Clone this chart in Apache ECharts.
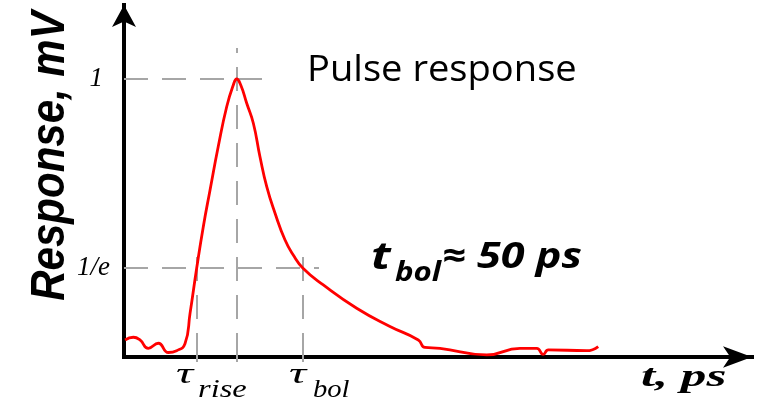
<!DOCTYPE html>
<html>
<head>
<meta charset="utf-8">
<title>Pulse response</title>
<script src="https://cdn.jsdelivr.net/npm/echarts@6.0.0/dist/echarts.min.js"></script>
<style>
  html, body { margin: 0; padding: 0; background: #fff; }
  #main { width: 763px; height: 404px; }
</style>
</head>
<body>
<div id="main"></div>
<script>
// pulse curve (t in ps, response in mV)
var timePs = [0.8, 7.2, 12.3, 18.7, 26.4, 34.1, 40.5, 46.9, 50.8, 55.9, 61.0, 66.2, 72.5, 79.0, 84.1, 86.7, 89.8, 94.4, 99.5, 104.6, 109.8, 116.2, 123.8, 130.2, 137.7, 153.3, 179.0, 204.6, 226.4, 231.5, 243.1, 279.0, 304.6, 317.5, 322.5, 326.4, 355.9, 364.8]
var responseMv = [0.127, 0.136, 0.127, 0.099, 0.116, 0.085, 0.091, 0.114, 0.216, 0.367, 0.506, 0.629, 0.774, 0.907, 0.980, 1.0, 0.980, 0.919, 0.852, 0.740, 0.640, 0.551, 0.462, 0.411, 0.367, 0.311, 0.233, 0.172, 0.127, 0.102, 0.099, 0.077, 0.099, 0.099, 0.079, 0.094, 0.091, 0.105]

// guide levels (y) and marker times (x)
var levelValues = [1, 0.3679]
var levelLabels = ['1', '1/e']
var levelEnds = [116, 150]          // how far the horizontal dashes run, ps
var markerTimes = [56.2, 86.7, 137.7] // tau_rise, peak, tau_bol
var markerTops = [0.445, 1.104, 0.435]

var yMin = 0.07
var yMax = 1.2475
var xMax = 483.1

var chart = echarts.init(document.getElementById('main'), null, { renderer: 'canvas' })

var pulseData = timePs.map(function (t, i) { return [t, responseMv[i]] })

var guides = []
levelValues.forEach(function (v, i) {
  guides.push([{ coord: [0, v] }, { coord: [levelEnds[i], v] }])
})
markerTimes.forEach(function (t, i) {
  guides.push([{ coord: [t, yMin] }, { coord: [t, markerTops[i]] }])
})

var axisLineStyle = { color: '#000', width: 4, cap: 'square' }

// little helper for the free texts, most of them are stretched sideways in the original
function label(text, x, y, font, sx) {
  return {
    type: 'text', x: x, y: y, scaleX: sx || 1,
    style: { text: text, font: font, fill: '#000', align: 'left', verticalAlign: 'middle' }
  }
}

var option = {
  backgroundColor: '#fff',
  animation: false,
  grid: { left: 124, right: 11, top: 5, bottom: 47 },
  xAxis: {
    type: 'value',
    min: 0,
    max: xMax,
    splitLine: { show: false },
    axisLabel: { show: false },
    axisTick: {
      show: true,
      customValues: markerTimes,
      length: 5,
      lineStyle: { color: '#a6a6a6', width: 2 }
    },
    axisLine: {
      onZero: false,
      symbol: ['none', 'arrow'],
      symbolSize: [16, 29],
      lineStyle: axisLineStyle
    }
  },
  yAxis: {
    type: 'value',
    min: yMin,
    max: yMax,
    splitLine: { show: false },
    axisTick: { show: false },
    axisLabel: {
      customValues: levelValues,
      margin: 14,
      formatter: function (v) {
        return v > 0.5 ? '{one|' + levelLabels[0] + '}' : levelLabels[1]
      },
      fontFamily: 'Liberation Serif',
      fontStyle: 'italic',
      fontSize: 27,
      color: '#000',
      rich: {
        one: { fontFamily: 'Liberation Serif', fontStyle: 'italic', fontSize: 27, color: '#000', padding: [0, 7, 0, 0] }
      }
    },
    axisLine: {
      onZero: false,
      symbol: ['none', 'arrow'],
      symbolSize: [18, 22],
      lineStyle: axisLineStyle
    }
  },
  series: [
    {
      type: 'line',
      data: pulseData,
      smooth: 0.5,
      showSymbol: false,
      lineStyle: { color: '#ff0000', width: 2.8 },
      z: 3,
      markLine: {
        silent: true,
        symbol: ['none', 'none'],
        label: { show: false },
        lineStyle: { color: '#a6a6a6', width: 2, type: [24, 14] },
        data: guides,
        z: 1
      }
    }
  ],
  graphic: [
    {
      type: 'text', x: 51, y: 156, rotation: Math.PI / 2, scaleY: 1.15,
      style: { text: 'Response, mV', font: 'italic bold 42px "Liberation Sans"', fill: '#000', align: 'center', verticalAlign: 'middle' }
    },
    label('Pulse response', 307, 70, '37px "Open Sans"', 1.03),
    // t_bol ≈ 50 ps
    label('t', 371, 258, 'italic bold 37px "Open Sans"', 1.3),
    label('bol', 395, 274, 'italic bold 26px "Open Sans"', 1.2),
    label('≈ 50 ps', 442, 258, 'italic bold 36px "Open Sans"', 1.2),
    // names under the x axis
    label('t, ps', 641, 378, 'italic bold 32px "Liberation Serif"', 1.6),
    label('τ', 176, 375, 'italic 30px "Liberation Serif"', 1.6),
    label('rise', 198, 390, 'italic 26px "Liberation Serif"', 1.25),
    label('τ', 289, 375, 'italic 30px "Liberation Serif"', 1.6),
    label('bol', 313, 390, 'italic 26px "Liberation Serif"', 1.1)
  ]
}

chart.setOption(option)
</script>
</body>
</html>
